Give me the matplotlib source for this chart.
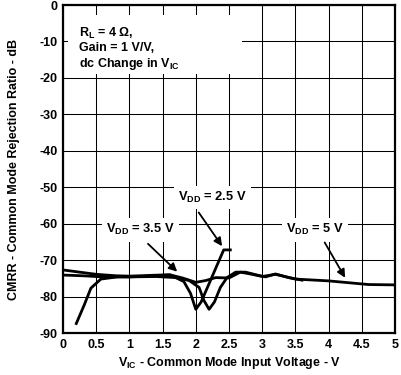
import numpy as np
import matplotlib
matplotlib.use('Agg')
import matplotlib.pyplot as plt
from matplotlib.patches import Rectangle

plt.rcParams['font.family'] = ['Liberation Sans', 'DejaVu Sans']
plt.rcParams['font.weight'] = 'bold'
plt.rcParams['mathtext.default'] = 'regular'
plt.rcParams['axes.unicode_minus'] = False

# curves
vdd5_x = [0, 0.25, 0.5, 0.8, 1.0, 1.3, 1.6, 1.8, 2.0, 2.15, 2.3, 2.5, 2.67, 2.85, 3.0, 3.2, 3.5, 3.8, 4.0, 4.3, 4.6, 5.0]
vdd5_y = [-72.7, -73.3, -73.9, -74.3, -74.4, -74.2, -74.0, -74.9, -76.1, -75.6, -74.8, -74.9, -73.3, -73.9, -74.5, -73.9, -75.2, -75.5, -75.7, -76.2, -76.7, -76.8]

vdd35_x = [0, 0.3, 0.6, 1.0, 1.4, 1.7, 1.9, 2.05, 2.12, 2.2, 2.28, 2.37, 2.47, 2.6, 2.75, 2.9, 3.05, 3.2, 3.4, 3.6]
vdd35_y = [-74.1, -74.3, -74.6, -74.6, -74.5, -74.8, -75.6, -77.5, -81.0, -83.5, -81.5, -77.5, -74.8, -73.3, -73.3, -74.0, -74.6, -73.8, -74.8, -75.5]

vdd25_x = [0.2, 0.32, 0.42, 0.57, 0.82, 1.0, 1.3, 1.62, 1.82, 1.92, 2.0, 2.08, 2.42, 2.52]
vdd25_y = [-87.4, -82.3, -77.7, -75.2, -74.6, -74.6, -74.4, -74.1, -75.9, -79.1, -83.5, -81.5, -67.2, -67.2]

labels = ['V$_{DD}$ = 2.5 V', 'V$_{DD}$ = 3.5 V', 'V$_{DD}$ = 5 V']
label_xy = [(2.25, -52.9), (1.17, -61.7), (3.8, -61.7)]
arrow_from = [(2.02, -56.3), (1.25, -65.0), (3.92, -64.5)]
arrow_to = [(2.42, -66.8), (1.75, -73.7), (4.27, -75.5)]

xticks = np.arange(0, 5.01, 0.5)
yticks = np.arange(-90, 1, 10)

fig = plt.figure(figsize=(4.01, 3.75), dpi=100)
ax = fig.add_axes([63/401, 1-333/375, 332/401, 328/375])

ax.set_xlim(0, 5)
ax.set_ylim(-90, 0)
ax.set_xticks(xticks)
ax.set_xticklabels(['0', '0.5', '1', '1.5', '2', '2.5', '3', '3.5', '4', '4.5', '5'])
ax.set_yticks(yticks)
ax.tick_params(length=0, labelsize=9, pad=4)
ax.grid(True, color='black', linewidth=0.75)
for s in ax.spines.values():
    s.set_linewidth(1.6)

for xs, ys in [(vdd5_x, vdd5_y), (vdd35_x, vdd35_y), (vdd25_x, vdd25_y)]:
    ax.plot(xs, ys, color='black', linewidth=2.0, zorder=3)

for lab, pos, a0, a1 in zip(labels, label_xy, arrow_from, arrow_to):
    ax.text(pos[0], pos[1], lab, ha='center', va='center', fontsize=9.3, fontweight='bold',
            bbox=dict(facecolor='white', edgecolor='none', pad=3), zorder=4)
    ax.annotate('', xy=a1, xytext=a0,
                arrowprops=dict(arrowstyle='-|>', color='black', lw=1.3, mutation_scale=12), zorder=4)

# white block behind the conditions text (hides grid like the original)
ax.add_patch(Rectangle((0.07, -19.0), 2.63, 16.3, facecolor='white', edgecolor='none', zorder=3.5))
ax.text(0.24, -12.0, 'R$_L$ = 4 $\\Omega$,\nGain = 1 V/V,\ndc Change in V$_{IC}$',
        ha='left', va='center', fontsize=9, fontweight='bold', linespacing=1.15, zorder=4)

ax.set_xlabel('V$_{IC}$ - Common Mode Input Voltage - V', fontsize=9, fontweight='bold', labelpad=3)
ax.set_ylabel('CMRR - Common Mode Rejection Ratio - dB', fontsize=9, fontweight='bold', labelpad=14)

plt.savefig('out.png', dpi=100)
